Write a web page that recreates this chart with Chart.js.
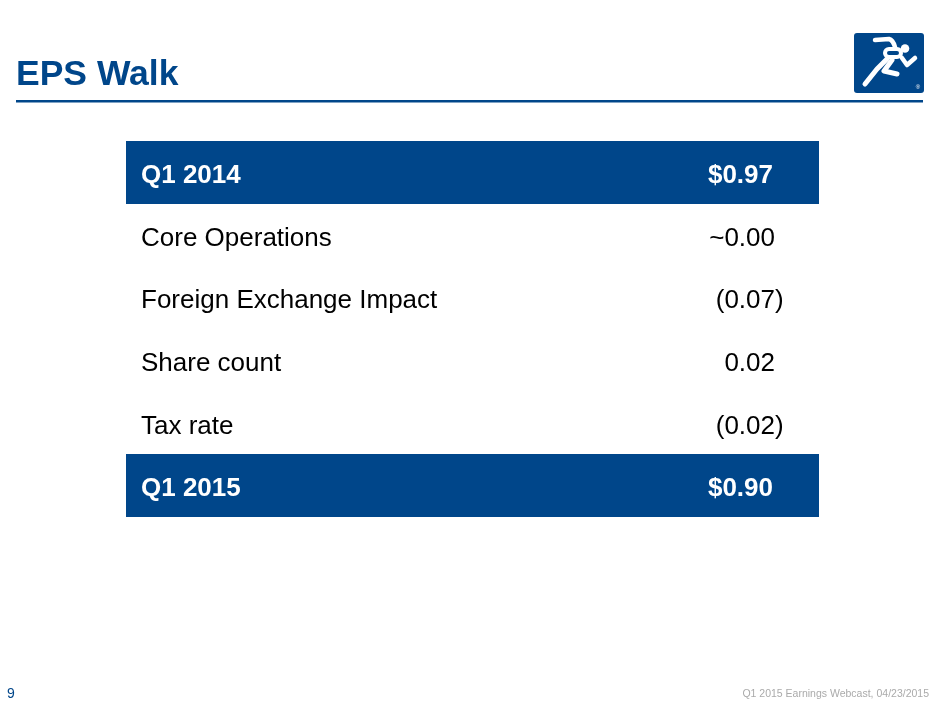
<!DOCTYPE html>
<html>
<head>
<meta charset="utf-8">
<title>EPS Walk</title>
<script src="https://cdn.jsdelivr.net/npm/chart.js@4.4.0/dist/chart.umd.min.js"></script>
<style>
  html, body { margin: 0; padding: 0; background: #fff; }
  #wrap { position: relative; width: 940px; height: 705px; overflow: hidden; }
  #logo { position: absolute; left: 854px; top: 33px; width: 70px; height: 60px; }
</style>
</head>
<body>
<div id="wrap">
  <canvas id="eps-chart" width="940" height="705"></canvas>
  <!-- logo pojok kanan atas -->
  <svg id="logo" viewBox="0 0 70 60">
    <rect x="0" y="0" width="70" height="60" rx="3" fill="#00468A"/>
    <g stroke="#fff" stroke-linecap="round" stroke-linejoin="round" fill="none">
      <path d="M21,7 L35,6 Q39,7 41,14" stroke-width="4.5"/>
      <rect x="31" y="16" width="16" height="8" rx="4" stroke-width="4"/>
      <path d="M48,25 L53,32 L61,25" stroke-width="4.5"/>
      <path d="M33,26 L23,36 L11,51" stroke-width="5"/>
      <path d="M38,27 L30,38 L43,41" stroke-width="5"/>
    </g>
    <circle cx="51" cy="15.5" r="4.3" fill="#fff"/>
    <text x="64" y="56" font-family="Liberation Sans, Arial" font-size="6" fill="#fff" text-anchor="middle">®</text>
  </svg>
</div>

<script>
// ═══════════════════════════════════════════
// Data EPS walk Q1 2014 -> Q1 2015
// ═══════════════════════════════════════════
const rowLabels = ['Q1 2014', 'Core Operations', 'Foreign Exchange Impact', 'Share count', 'Tax rate', 'Q1 2015'];
const rowValues = [0.97, 0.00, -0.07, 0.02, -0.02, 0.90];
const rowApprox = [false, true, false, false, false, false];
const totalRows = [true, false, false, false, false, true];

const BLUE = '#00468A';
const FONT = "'Liberation Sans', Arial, Helvetica, sans-serif";

// Format nilai: total pakai $, negatif pakai kurung, ~ untuk perkiraan
function formatValue(i) {
  const v = rowValues[i];
  const num = Math.abs(v).toFixed(2);
  if (totalRows[i]) return '$' + num;
  if (rowApprox[i]) return '~' + num;
  if (v < 0) return '(' + num;
  return num;
}

// Plugin: tulis teks baris tabel berdasarkan skala
const rowTextPlugin = {
  id: 'rowText',
  afterDatasetsDraw(chart) {
    const { ctx, chartArea, scales } = chart;
    const yScale = scales.y;
    const valueRight = chartArea.right - 44;
    ctx.save();
    rowLabels.forEach((label, i) => {
      const y = yScale.getPixelForValue(i) + 10.5;
      const isTotal = totalRows[i];
      ctx.font = (isTotal ? 'bold ' : '') + '26px ' + FONT;
      ctx.fillStyle = isTotal ? '#fff' : '#000';
      ctx.textBaseline = 'alphabetic';
      ctx.textAlign = 'left';
      ctx.fillText(label, chartArea.left + 15, y);

      ctx.textAlign = 'right';
      ctx.fillText(formatValue(i), isTotal ? valueRight - 2 : valueRight, y);
      if (!isTotal && rowValues[i] < 0) {
        ctx.textAlign = 'left';
        ctx.fillText(')', valueRight, y);
      }
    });
    ctx.restore();
  }
};

// Plugin: judul slide, garis, footer
const slidePlugin = {
  id: 'slide',
  afterDraw(chart) {
    const ctx = chart.ctx;
    ctx.save();
    ctx.fillStyle = BLUE;
    ctx.font = 'bold 35.5px ' + FONT;
    ctx.textAlign = 'left';
    ctx.textBaseline = 'alphabetic';
    ctx.fillText('EPS Walk', 16, 85);
    ctx.fillRect(16, 100, 907, 2.5);

    ctx.font = '14px ' + FONT;
    ctx.fillText('9', 7, 698);

    ctx.fillStyle = '#aaa';
    ctx.font = '10.5px ' + FONT;
    ctx.textAlign = 'right';
    ctx.fillText('Q1 2015 Earnings Webcast, 04/23/2015', 929, 697);
    ctx.restore();
  }
};

const ctx = document.getElementById('eps-chart').getContext('2d');
const epsChart = new Chart(ctx, {
  type: 'bar',
  data: {
    labels: rowLabels,
    datasets: [{
      data: totalRows.map(t => t ? 1 : null),
      backgroundColor: BLUE,
      borderWidth: 0,
      barPercentage: 1,
      categoryPercentage: 1
    }]
  },
  options: {
    indexAxis: 'y',
    responsive: false,
    animation: false,
    layout: { padding: { left: 126, right: 121, top: 141, bottom: 188 } },
    plugins: {
      legend: { display: false },
      tooltip: { enabled: false }
    },
    scales: {
      x: { display: false, min: 0, max: 1 },
      y: { display: false }
    }
  },
  plugins: [rowTextPlugin, slidePlugin]
});
</script>
</body>
</html>
